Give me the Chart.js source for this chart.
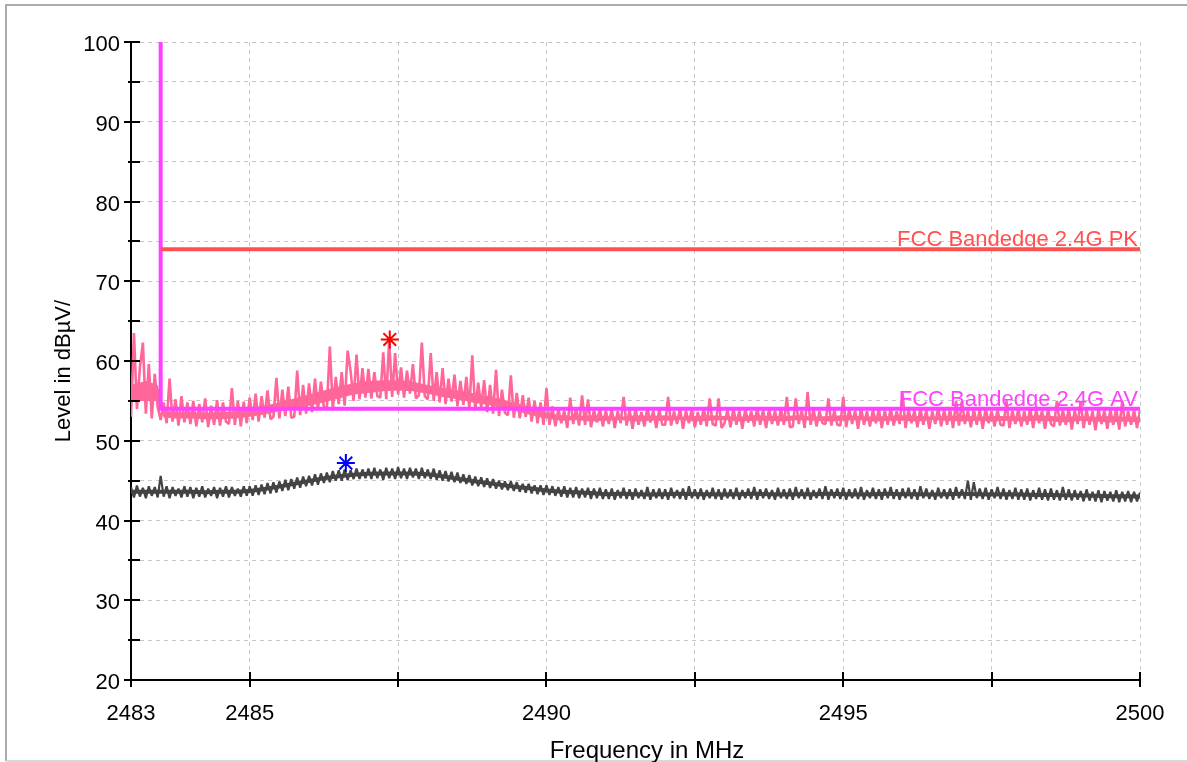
<!DOCTYPE html>
<html>
<head>
<meta charset="utf-8">
<title>FCC Bandedge 2483-2500 MHz</title>
<script src="https://cdn.jsdelivr.net/npm/chart.js@4.4.1/dist/chart.umd.min.js"></script>
<style>
  html, body { margin: 0; padding: 0; background: #fff; overflow: hidden; }
</style>
</head>
<body>
<canvas id="chart" width="1187" height="762"></canvas>
<script>
/*
 ** comment : bandedge 측정 스펙트럼 (2483 ~ 2500 MHz)
 */

// 스윕 설정 : 2483 MHz 부터 0.05 MHz 간격, 341 포인트
const FREQ_START = 2483;
const FREQ_STEP = 0.05;

// 피크 트레이스 (dBµV)
const PEAK_TRACE = [
  53.0, 63.5, 54.0, 59.2, 62.3, 53.4, 59.6, 52.8, 58.4, 54.2,
  52.6, 54.8, 52.2, 57.8, 52.4, 55.2, 51.9, 55.6, 52.3, 54.8,
  52.1, 55.0, 51.8, 54.6, 52.3, 55.3, 51.7, 54.4, 52.0, 55.1, 51.9, 54.8, 52.4, 52.1, 56.6, 52.0, 55.0, 51.8, 54.9, 52.2,
  55.4, 52.6, 55.9, 52.4, 55.6, 52.9, 56.3, 52.7, 53.0, 57.9, 52.8, 56.4, 53.1, 56.8, 52.9, 53.0, 58.8, 53.2, 57.0, 53.4,
  57.2, 53.6, 57.8, 53.9, 57.4, 54.2, 54.1, 61.8, 54.0, 58.0, 54.6, 58.6, 54.4, 61.3, 58.7, 55.0, 60.8, 55.2, 59.1, 55.4,
  59.0, 55.3, 58.6, 55.6, 55.4, 61.1, 55.2, 62.6, 55.5, 61.0, 55.8, 59.2, 55.4, 58.8, 55.9, 59.6, 55.3, 55.7, 62.3, 55.6,
  55.2, 61.0, 55.0, 58.6, 54.8, 59.1, 54.6, 57.8, 54.9, 58.3, 54.3, 57.5, 54.5, 58.0, 54.0, 60.7, 53.8, 57.3, 54.2, 57.6,
  53.6, 57.0, 53.4, 58.9, 53.1, 56.4, 53.5, 53.2, 58.2, 52.9, 56.0, 52.8, 55.7, 53.0, 55.4, 52.4, 55.0, 52.2, 54.8, 52.0,
  56.6, 52.0, 54.3, 51.8, 54.0, 52.2, 53.8, 51.6, 55.4, 52.1, 54.2, 51.9, 55.7, 52.0, 55.2, 51.7, 53.9, 52.3, 54.1, 51.8,
  53.8, 52.1, 54.0, 51.6, 53.7, 52.2, 55.5, 51.9, 53.9, 51.5, 54.1, 52.0, 53.6, 51.8, 54.2, 52.3, 53.8, 51.6, 53.9, 52.0,
  52.0, 55.5, 51.9, 53.7, 52.1, 54.1, 51.5, 53.8, 52.2, 54.0, 51.7, 53.6, 52.0, 54.2, 51.8, 55.3, 52.1, 51.9, 55.3, 51.6,
  52.2, 53.9, 51.7, 54.1, 52.0, 53.8, 51.5, 54.0, 52.3, 53.7, 51.8, 54.2, 52.0, 53.9, 51.6, 54.0, 52.1, 53.8, 51.9, 54.1,
  52.0, 55.5, 51.7, 51.8, 55.3, 52.1, 53.8, 51.6, 56.1, 52.0, 54.0, 51.8, 53.7, 52.2, 52.1, 55.3, 51.9, 53.8, 52.0, 51.9,
  55.5, 51.7, 54.0, 52.1, 53.8, 51.5, 54.2, 52.0, 53.7, 51.8, 53.9, 52.2, 54.0, 51.6, 53.8, 52.0, 54.1, 51.9, 53.7, 52.1,
  56.0, 51.6, 54.0, 52.2, 53.8, 51.7, 54.1, 52.0, 53.9, 51.5, 53.7, 52.1, 54.2, 51.8, 53.9, 52.0, 54.0, 51.6, 55.0, 51.9,
  55.0, 52.1, 53.8, 51.7, 54.0, 52.0, 53.9, 51.5, 54.1, 52.2, 53.7, 51.8, 53.9, 52.0, 51.9, 55.0, 51.6, 53.8, 52.1, 54.0,
  51.8, 53.7, 52.0, 54.1, 51.6, 53.9, 52.2, 53.8, 51.5, 54.0, 52.1, 51.8, 55.0, 51.9, 53.9, 52.0, 54.1, 51.4, 53.8, 52.1,
  55.0, 51.6, 53.9, 52.0, 53.7, 51.3, 54.0, 52.1, 53.8, 51.5, 53.9, 52.0, 54.1, 51.4, 55.0, 51.8, 53.7, 52.0, 53.9, 51.6,
  53.8,
];

// 평균 트레이스 (dBµV)
const AVG_TRACE = [
  44.2, 42.9, 44.4, 43.0, 44.1, 42.8, 44.3, 43.1, 44.2, 42.9, 45.6, 43.0, 44.3, 42.8, 44.2, 43.1, 44.0, 42.9, 44.3, 43.0,
  44.2, 42.8, 44.1, 43.0, 44.3, 42.9, 44.0, 43.1, 44.2, 42.8, 44.1, 43.0, 44.3, 42.9, 44.2, 43.1, 44.0, 43.0, 44.3, 43.1,
  44.3, 43.1, 44.4, 43.2, 44.5, 43.3, 44.7, 43.4, 44.8, 43.5, 44.9, 43.7, 45.1, 43.8, 45.2, 44.0, 45.4, 44.1, 45.5, 44.3,
  45.6, 44.4, 45.8, 44.5, 45.9, 44.7, 46.0, 44.8, 46.2, 45.0, 46.3, 45.0, 46.4, 45.1, 46.3, 45.2, 46.5, 45.2, 46.4, 45.3,
  46.5, 45.2, 46.6, 45.3, 46.4, 45.1, 46.6, 45.3, 46.5, 45.2, 46.7, 45.3, 46.5, 45.2, 46.6, 45.4, 46.5, 45.2, 46.6, 45.3,
  46.4, 45.2, 46.5, 45.1, 46.3, 45.0, 46.2, 44.9, 46.1, 44.8, 46.0, 44.7, 45.8, 44.6, 45.7, 44.4, 45.5, 44.3, 45.4, 44.2,
  45.3, 44.1, 45.2, 44.0, 45.0, 43.9, 44.9, 43.8, 44.9, 43.7, 44.8, 43.6, 44.6, 43.5, 44.6, 43.4, 44.4, 43.3, 44.4, 43.2,
  44.4, 43.2, 44.3, 43.1, 44.2, 43.0, 44.3, 42.9, 44.1, 42.9, 44.2, 42.8, 44.0, 42.9, 44.1, 42.7, 44.0, 42.8, 44.1, 42.7,
  43.9, 42.7, 44.0, 42.6, 43.8, 42.8, 44.1, 42.7, 43.9, 42.6, 44.0, 42.8, 43.8, 42.7, 44.2, 42.6, 43.9, 42.8, 44.0, 42.7,
  43.9, 42.6, 44.1, 42.8, 43.8, 42.7, 44.0, 42.6, 44.3, 42.8, 43.9, 42.7, 44.0, 42.6, 43.8, 42.8, 44.1, 42.7, 43.9, 42.6,
  44.0, 42.8, 43.9, 42.7, 44.1, 42.6, 43.8, 42.8, 44.0, 42.7, 44.2, 42.6, 43.9, 42.8, 44.0, 42.7, 43.8, 42.6, 44.1, 42.8,
  43.9, 42.7, 44.0, 42.6, 44.2, 42.8, 43.9, 42.7, 44.1, 42.6, 43.8, 42.8, 44.0, 42.7, 44.3, 42.6, 43.9, 42.8, 44.0, 42.7,
  44.1, 42.6, 43.9, 42.8, 44.0, 42.7, 44.2, 42.6, 43.8, 42.8, 44.1, 42.7, 43.9, 42.6, 44.0, 42.8, 44.2, 42.7, 43.9, 42.6,
  44.0, 42.8, 44.1, 42.7, 43.9, 42.6, 44.3, 42.8, 44.0, 42.7, 43.8, 42.6, 44.1, 42.8, 43.9, 42.7, 44.0, 42.6, 44.2, 42.8,
  43.9, 42.7, 45.0, 42.6, 44.8, 42.8, 44.0, 42.7, 44.1, 42.6, 43.9, 42.8, 44.2, 42.7, 44.0, 42.6, 43.8, 42.7, 44.1, 42.6,
  43.9, 42.6, 44.0, 42.5, 43.8, 42.7, 44.1, 42.6, 43.9, 42.5, 44.0, 42.6, 43.8, 42.5, 44.2, 42.6, 43.9, 42.5, 43.8, 42.6,
  43.7, 42.4, 43.9, 42.5, 43.6, 42.4, 43.8, 42.3, 43.7, 42.5, 43.6, 42.4, 43.8, 42.3, 43.6, 42.4, 43.7, 42.3, 43.6, 42.4,
  43.5,
];

// 트레이스의 촘촘한 중심 영역 (상단/하단, dBµV)
const CORE_FREQ = [
  2483, 2483.25, 2483.45, 2483.55, 2483.75,
  2484, 2484.25, 2484.5, 2484.75, 2485, 2485.25, 2485.5, 2485.75, 2486, 2486.25, 2486.5, 2486.75,
  2487, 2487.25, 2487.5, 2487.75, 2488, 2488.25, 2488.5, 2488.75, 2489, 2489.25, 2489.5, 2489.75,
  2490, 2490.25, 2490.5, 2490.75, 2491, 2491.25, 2491.5, 2491.75, 2492, 2492.25, 2492.5, 2492.75,
  2493, 2493.25, 2493.5, 2493.75, 2494, 2494.25, 2494.5, 2494.75, 2495, 2495.25, 2495.5, 2495.75,
  2496, 2496.25, 2496.5, 2496.75, 2497, 2497.25, 2497.5, 2497.75, 2498, 2498.25, 2498.5, 2498.75,
  2499, 2499.25, 2499.5, 2499.75, 2500,
];
const PEAK_CORE_HI = [
  57.0, 57.5, 57.0, 53.8, 53.6,
  53.6, 53.5, 53.6, 53.7, 54.0, 54.4, 54.8, 55.3, 55.8, 56.3, 56.8, 57.2,
  57.5, 57.6, 57.6, 57.4, 57.0, 56.6, 56.3, 56.0, 55.6, 55.2, 54.7, 54.1,
  53.5, 53.2, 53.1, 53.2, 53.1, 53.0, 53.2, 53.1, 53.2, 53.0, 53.1, 53.2,
  53.1, 53.0, 53.2, 53.1, 53.1, 53.2, 53.0, 53.1, 53.2, 53.1, 53.0, 53.1,
  53.2, 53.1, 53.0, 53.1, 53.2, 53.0, 53.1, 53.1, 53.0, 53.2, 53.1, 53.0,
  53.1, 53.0, 53.1, 53.0, 53.0,
];
const PEAK_CORE_LO = [
  55.0, 55.0, 55.0, 52.9, 52.8,
  52.8, 52.7, 52.7, 52.8, 53.0, 53.3, 53.7, 54.0, 54.4, 54.8, 55.3, 55.8,
  56.0, 56.2, 56.3, 56.2, 55.9, 55.5, 55.2, 54.8, 54.5, 54.1, 53.7, 53.2,
  52.8, 52.5, 52.6, 52.4, 52.5, 52.6, 52.4, 52.5, 52.5, 52.6, 52.4, 52.5,
  52.6, 52.4, 52.5, 52.5, 52.4, 52.6, 52.5, 52.4, 52.5, 52.6, 52.4, 52.5,
  52.5, 52.4, 52.6, 52.5, 52.4, 52.5, 52.4, 52.5, 52.4, 52.5, 52.4, 52.3,
  52.5, 52.4, 52.3, 52.4, 52.3,
];
const AVG_CORE_HI = [
  43.85, 43.85, 43.85, 43.85, 43.85,
  43.85, 43.8, 43.85, 43.85, 43.95, 44.2, 44.5, 44.85, 45.2, 45.55, 45.8, 46.0,
  46.1, 46.15, 46.15, 46.15, 46.05, 45.8, 45.5, 45.2, 44.95, 44.7, 44.45, 44.25,
  44.0, 43.85, 43.8, 43.7, 43.55, 43.6, 43.55, 43.5, 43.55, 43.6, 43.55, 43.55,
  43.5, 43.55, 43.6, 43.55, 43.5, 43.55, 43.55, 43.6, 43.55, 43.5, 43.55, 43.6,
  43.55, 43.55, 43.5, 43.55, 43.6, 43.55, 43.5, 43.55, 43.5, 43.45, 43.45, 43.4,
  43.4, 43.35, 43.3, 43.3, 43.25,
];
const AVG_CORE_LO = [
  43.35, 43.35, 43.35, 43.35, 43.35,
  43.35, 43.3, 43.35, 43.35, 43.45, 43.7, 44.0, 44.35, 44.7, 45.05, 45.3, 45.5,
  45.6, 45.65, 45.65, 45.65, 45.55, 45.3, 45.0, 44.7, 44.45, 44.2, 43.95, 43.75,
  43.5, 43.35, 43.3, 43.2, 43.05, 43.1, 43.05, 43.0, 43.05, 43.1, 43.05, 43.05,
  43.0, 43.05, 43.1, 43.05, 43.0, 43.05, 43.05, 43.1, 43.05, 43.0, 43.05, 43.1,
  43.05, 43.05, 43.0, 43.05, 43.1, 43.05, 43.0, 43.05, 43.0, 42.95, 42.95, 42.9,
  42.9, 42.85, 42.8, 42.8, 42.75,
];

// 리밋 라인 (주파수, 레벨)
const LIMIT_PK_FREQ = [2483.5, 2500];
const LIMIT_PK_LEVEL = [74, 74];
const LIMIT_AV_FREQ = [2483.5, 2483.5, 2500];
const LIMIT_AV_LEVEL = [100, 54, 54];
const LIMIT_PK_LABEL = 'FCC Bandedge 2.4G PK';
const LIMIT_AV_LABEL = 'FCC Bandedge 2.4G AV';

// 마커
const MARKER_PK = { freq: 2487.36, level: 62.7 };
const MARKER_AV = { freq: 2486.62, level: 47.2 };

// 축 눈금
const X_TICKS = [2483, 2485, 2487.5, 2490, 2492.5, 2495, 2497.5, 2500];
const X_LABELS = [2483, 2485, 2490, 2495, 2500];
const Y_TICKS = [20, 25, 30, 35, 40, 45, 50, 55, 60, 65, 70, 75, 80, 85, 90, 95, 100];
const Y_LABELS = [20, 30, 40, 50, 60, 70, 80, 90, 100];

const X_TITLE = 'Frequency in MHz';
const Y_TITLE = 'Level in dBµV/';

document.addEventListener('DOMContentLoaded', function () {
  const FONT = "'Liberation Sans', Arial, sans-serif";
  const PINK = '#ff6699';
  const DARK = '#444444';

  function toPoints(freqs, levels) {
    return levels.map(function (v, i) {
      return { x: freqs[i], y: v };
    });
  }

  function sweep(values) {
    return values.map(function (v, i) {
      return { x: FREQ_START + i * FREQ_STEP, y: v };
    });
  }

  // 바깥 테두리 (상/좌/하)
  const framePlugin = {
    id: 'frame',
    beforeDraw(chart) {
      const ctx = chart.ctx;
      ctx.save();
      ctx.fillStyle = '#ffffff';
      ctx.fillRect(0, 0, chart.width, chart.height);
      ctx.strokeStyle = '#ababab';
      ctx.lineWidth = 2;
      ctx.beginPath();
      ctx.moveTo(chart.width, 5);
      ctx.lineTo(6, 5);
      ctx.lineTo(6, 761);
      ctx.stroke();
      ctx.strokeStyle = '#d8d8d8';
      ctx.beginPath();
      ctx.moveTo(6, 761);
      ctx.lineTo(chart.width, 761);
      ctx.stroke();
      ctx.restore();
    },
  };

  // 축 눈금선 (축을 가로지르는 짧은 선), 축 제목, 리밋 라벨
  const decoPlugin = {
    id: 'deco',
    afterDraw(chart) {
      const ctx = chart.ctx;
      const xs = chart.scales.x;
      const ys = chart.scales.y;
      const axisX = xs.getPixelForValue(FREQ_START);
      const axisY = ys.getPixelForValue(20);

      ctx.save();
      ctx.strokeStyle = '#000000';
      ctx.lineWidth = 2;
      ctx.beginPath();
      Y_TICKS.forEach(function (v) {
        const py = Math.round(ys.getPixelForValue(v));
        const major = Y_LABELS.indexOf(v) > -1;
        ctx.moveTo(axisX - (major ? 7 : 3), py);
        ctx.lineTo(axisX + 9, py);
      });
      X_TICKS.forEach(function (v) {
        const px = Math.round(xs.getPixelForValue(v));
        ctx.moveTo(px, axisY - 8);
        ctx.lineTo(px, axisY + 7);
      });
      ctx.stroke();

      // 리밋 라벨
      ctx.font = '22px ' + FONT;
      ctx.textAlign = 'right';
      ctx.textBaseline = 'alphabetic';
      ctx.fillStyle = '#ff5050';
      ctx.fillText(LIMIT_PK_LABEL, xs.right - 2, ys.getPixelForValue(74) - 3);
      ctx.fillStyle = '#ff40ff';
      ctx.fillText(LIMIT_AV_LABEL, xs.right - 2, ys.getPixelForValue(54) - 3);

      // 축 제목
      ctx.fillStyle = '#000000';
      ctx.textAlign = 'center';
      ctx.font = '24px ' + FONT;
      ctx.fillText(X_TITLE, 647, 758);
      ctx.translate(70, 371);
      ctx.rotate(-Math.PI / 2);
      ctx.font = '22px ' + FONT;
      ctx.fillText(Y_TITLE, 0, 0);
      ctx.restore();
    },
  };

  const data = {
    datasets: [
      {
        label: 'Marker PK',
        data: [{ x: MARKER_PK.freq, y: MARKER_PK.level }],
        showLine: false,
        pointStyle: 'star',
        pointRadius: 9,
        pointBorderWidth: 2,
        pointBorderColor: '#ff0000',
        pointBackgroundColor: '#ff0000',
        order: 0,
      },
      {
        label: 'Marker AV',
        data: [{ x: MARKER_AV.freq, y: MARKER_AV.level }],
        showLine: false,
        pointStyle: 'star',
        pointRadius: 9,
        pointBorderWidth: 2,
        pointBorderColor: '#0000ff',
        pointBackgroundColor: '#0000ff',
        order: 0,
      },
      {
        label: LIMIT_PK_LABEL,
        data: toPoints(LIMIT_PK_FREQ, LIMIT_PK_LEVEL),
        borderColor: '#ff5050',
        borderWidth: 4,
        pointRadius: 0,
        tension: 0,
        order: 1,
      },
      {
        label: LIMIT_AV_LABEL,
        data: toPoints(LIMIT_AV_FREQ, LIMIT_AV_LEVEL),
        borderColor: '#ff40ff',
        borderWidth: 4,
        pointRadius: 0,
        tension: 0,
        order: 2,
      },
      {
        label: 'Peak',
        data: sweep(PEAK_TRACE),
        borderColor: PINK,
        borderWidth: 2.6,
        borderJoinStyle: 'bevel',
        pointRadius: 0,
        tension: 0,
        order: 3,
      },
      {
        label: 'Peak core hi',
        data: toPoints(CORE_FREQ, PEAK_CORE_HI),
        borderWidth: 0,
        pointRadius: 0,
        tension: 0,
        fill: '+1',
        backgroundColor: PINK,
        order: 4,
      },
      {
        label: 'Peak core lo',
        data: toPoints(CORE_FREQ, PEAK_CORE_LO),
        borderWidth: 0,
        pointRadius: 0,
        tension: 0,
        order: 4,
      },
      {
        label: 'Average',
        data: sweep(AVG_TRACE),
        borderColor: DARK,
        borderWidth: 2.2,
        borderJoinStyle: 'bevel',
        pointRadius: 0,
        tension: 0,
        order: 5,
      },
      {
        label: 'Average core hi',
        data: toPoints(CORE_FREQ, AVG_CORE_HI),
        borderWidth: 0,
        pointRadius: 0,
        tension: 0,
        fill: '+1',
        backgroundColor: DARK,
        order: 6,
      },
      {
        label: 'Average core lo',
        data: toPoints(CORE_FREQ, AVG_CORE_LO),
        borderWidth: 0,
        pointRadius: 0,
        tension: 0,
        order: 6,
      },
    ],
  };

  const options = {
    responsive: false,
    animation: false,
    devicePixelRatio: 1,
    events: [],
    layout: {
      padding: { top: 42, right: 47, bottom: 0, left: 0 },
    },
    plugins: {
      legend: { display: false },
      tooltip: { enabled: false },
      filler: { propagate: false },
    },
    scales: {
      x: {
        type: 'linear',
        min: FREQ_START,
        max: 2500,
        afterBuildTicks: function (scale) {
          scale.ticks = X_TICKS.map(function (v) {
            return { value: v };
          });
        },
        afterFit: function (scale) {
          scale.height = 82;
        },
        grid: {
          color: '#c8c8c8',
          lineWidth: 1,
          drawTicks: false,
        },
        border: { display: true, color: '#000000', width: 2, dash: [4, 4] },
        ticks: {
          autoSkip: false,
          maxRotation: 0,
          padding: 21,
          color: '#000000',
          font: { family: FONT, size: 22 },
          callback: function (v) {
            return X_LABELS.indexOf(v) > -1 ? String(v) : '';
          },
        },
      },
      y: {
        type: 'linear',
        min: 20,
        max: 100,
        afterBuildTicks: function (scale) {
          scale.ticks = Y_TICKS.map(function (v) {
            return { value: v };
          });
        },
        afterFit: function (scale) {
          scale.width = 131;
        },
        grid: {
          color: '#c8c8c8',
          lineWidth: 1,
          drawTicks: false,
        },
        border: { display: true, color: '#000000', width: 2, dash: [4, 4] },
        ticks: {
          autoSkip: false,
          padding: 11,
          labelOffset: 3,
          color: '#000000',
          font: { family: FONT, size: 22 },
          callback: function (v) {
            return Y_LABELS.indexOf(v) > -1 ? String(v) : '';
          },
        },
      },
    },
  };

  new Chart(document.getElementById('chart'), {
    type: 'line',
    data: data,
    options: options,
    plugins: [framePlugin, decoPlugin],
  });
});
</script>
</body>
</html>
